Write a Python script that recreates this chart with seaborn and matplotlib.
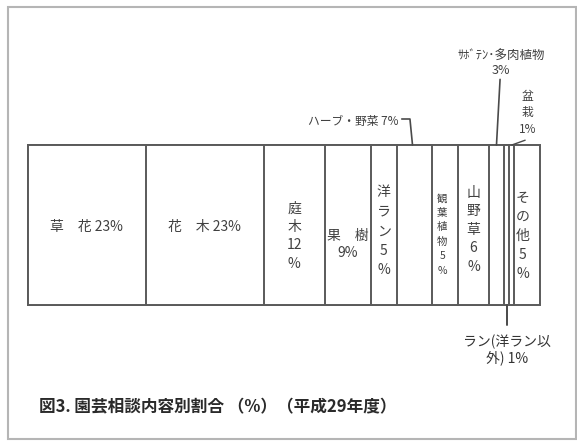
import matplotlib
matplotlib.use("Agg")
import matplotlib.pyplot as plt
from matplotlib.patches import Rectangle
import seaborn as sns
import pandas as pd
import numpy as np

# ---- data ----
categories = ["草花", "花木", "庭木", "果樹", "洋ラン", "ハーブ・野菜", "観葉植物",
              "山野草", "サボテン・多肉植物", "ラン(洋ラン以外)", "盆栽", "その他"]
shares = [23, 23, 12, 9, 5, 7, 5, 6, 3, 1, 1, 5]
labels = ["草　花 23%", "花　木 23%", "庭\n木\n12\n%", "果　樹\n9%", "洋\nラ\nン\n5\n%",
          "ハーブ・野菜 7%", "観\n葉\n植\n物\n5\n%", "山\n野\n草\n6\n%",
          "ｻﾎﾞﾃﾝ･多肉植物\n3%", "ラン(洋ラン以\n外) 1%", "盆\n栽\n1%", "そ\nの\n他\n5\n%"]
title = "図3. 園芸相談内容別割合 （%）（平成29年度）"

sns.set_style("white")
plt.rcParams['font.family'] = ['Noto Sans CJK JP', 'DejaVu Sans']

df = pd.DataFrame({"category": categories, "share": shares})
df["end"] = df["share"].cumsum()
df["start"] = df["end"] - df["share"]
df["mid"] = (df["start"] + df["end"]) / 2
df["row"] = "all"

W, H = 577, 446
fig = plt.figure(figsize=(W / 100, H / 100), dpi=100)
fig.patch.set_facecolor("white")
ax = fig.add_axes([28 / W, (H - 305) / H, 512 / W, 160 / H])

edge = "#5a5a5a"
for i in range(len(df) - 1, -1, -1):
    sub = df.iloc[[i]]
    sns.barplot(data=sub, x="end", y="row", orient="h", color="white",
                edgecolor=edge, linewidth=1.4, width=1.0, ax=ax,
                saturation=1, clip_on=False)

ax.set_xlim(0, 100)
ax.set_ylim(0.5, -0.5)
ax.axis("off")

tr = ax.get_xaxis_transform()
txt = "#404040"

def mid(name):
    return float(df.loc[df["category"] == name, "mid"].iloc[0])

def lab(name):
    return labels[categories.index(name)]

# inside labels
inside = [
    ("草花", 0.0, 0.49, 10, 1.2),
    ("花木", 0.0, 0.49, 10, 1.2),
    ("庭木", 0.0, 0.43, 10, 1.4),
    ("果樹", 0.0, 0.38, 10, 1.25),
    ("洋ラン", 0.0, 0.46, 10, 1.5),
    ("観葉植物", -0.6, 0.44, 7.5, 1.55),
    ("山野草", 0.0, 0.47, 10, 1.4),
    ("その他", -0.9, 0.43, 10, 1.45),
]
for name, dx, fy, fs, ls in inside:
    ax.text(mid(name) + dx, fy, lab(name), transform=tr, ha="center", va="center",
            fontsize=fs, color=txt, linespacing=ls)

# outside labels with leaders
lc = "#4a4a4a"
# herb
xm = mid("ハーブ・野菜")
ax.text(72.3, 1.144, lab("ハーブ・野菜"), transform=tr, ha="right", va="center",
        fontsize=8.5, color=txt)
ax.plot([73.0, 74.6, xm - 0.4], [1.1625, 1.1625, 1.0], transform=tr, color=lc,
        lw=1.2, clip_on=False)
# cactus
xm = mid("サボテン・多肉植物")
ax.text(92.4, 1.51, lab("サボテン・多肉植物"), transform=tr, ha="center", va="center",
        fontsize=9, color=txt, linespacing=1.2)
ax.plot([92.2, xm], [1.41, 1.0], transform=tr, color=lc, lw=1.2, clip_on=False)
# bonsai
xm = mid("盆栽")
ax.text(97.5, 1.203, lab("盆栽"), transform=tr, ha="center", va="center",
        fontsize=8.5, color=txt, linespacing=1.35)
ax.plot([97.1, xm], [1.03, 1.0], transform=tr, color=lc, lw=1.0, clip_on=False)
# other orchid
xm = mid("ラン(洋ラン以外)")
ax.plot([xm, xm], [0.0, -0.125], transform=tr, color=lc, lw=1.4, clip_on=False)
ax.text(xm, -0.281, lab("ラン(洋ラン以外)"), transform=tr, ha="center", va="center",
        fontsize=10, color="#333333", linespacing=1.15)

# title
fig.text(39 / W, 1 - 407 / H, title, ha="left", va="center", fontsize=12,
         fontweight="bold", color="#2a2a2a")

# outer frame
fig.patches.append(Rectangle((8 / W, 1 - 439 / H), 568 / W, 432 / H,
                             transform=fig.transFigure, fill=False,
                             edgecolor="#b5b5b5", lw=1.5))

fig.savefig("out.png", dpi=100, facecolor="white")
